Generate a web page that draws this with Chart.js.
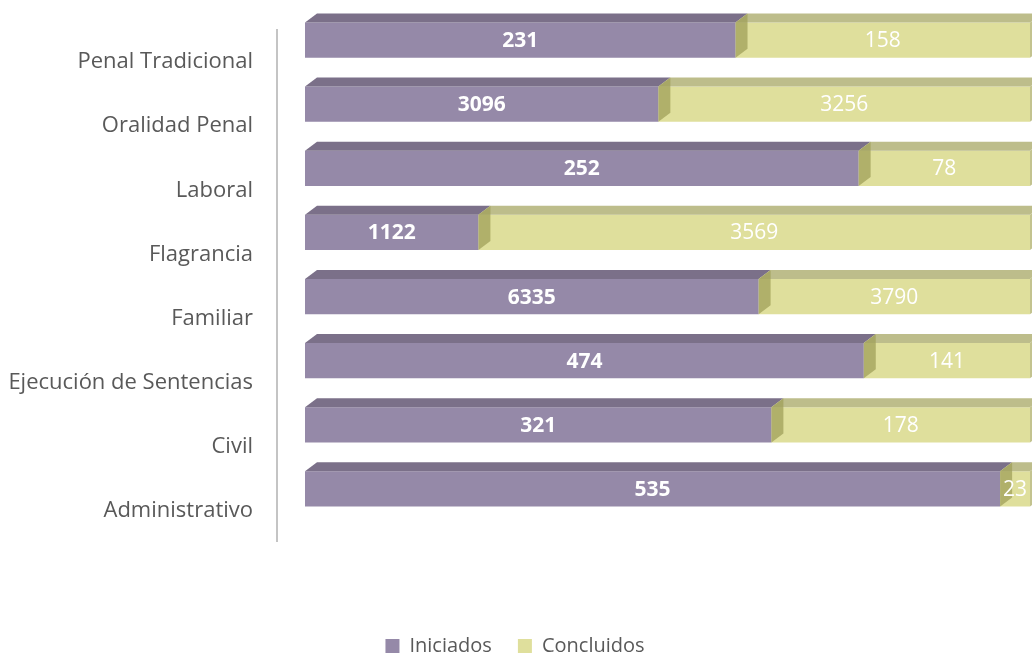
<!DOCTYPE html>
<html>
<head>
<meta charset="utf-8">
<script src="https://cdn.jsdelivr.net/npm/chart.js@4"></script>
<style>
html,body{margin:0;padding:0;background:#fff;}
#wrap{width:1032px;height:653px;position:relative;}
</style>
</head>
<body>
<div id="wrap"><canvas id="c" width="1032" height="653"></canvas></div>
<script>
const categories = ["Penal Tradicional","Oralidad Penal","Laboral","Flagrancia","Familiar","Ejecución de Sentencias","Civil","Administrativo"];
const iniciados = [231, 3096, 252, 1122, 6335, 474, 321, 535];
const concluidos = [158, 3256, 78, 3569, 3790, 141, 178, 23];
const seriesNames = ["Iniciados", "Concluidos"];

const totals = iniciados.map((v, i) => v + concluidos[i]);
const pctIni = iniciados.map((v, i) => v / totals[i] * 100);
const pctCon = concluidos.map((v, i) => v / totals[i] * 100);
const rawValues = [iniciados, concluidos];

const FRONT = ["#9589a8", "#dfdf9c"];
const TOP = ["#7b7089", "#bdbd8b"];
const SIDE_MID = "rgba(160,160,90,0.75)";
const SIDE_END = "#c3c38f";
const DX = 12, DY = 9;

const threeD = {
  id: 'threeD',
  beforeLayout(chart) {
    const lg = chart.legend;
    if (lg && !lg._patched) {
      const orig = lg.fit;
      lg.fit = function () { orig.apply(this, arguments); this.height -= 13; };
      lg._patched = true;
    }
  },
  afterDatasetsDraw(chart) {
    const ctx = chart.ctx;
    ctx.save();
    const metas = [chart.getDatasetMeta(0), chart.getDatasetMeta(1)];
    metas.forEach((meta, d) => {
      meta.data.forEach(el => {
        const top = el.y - el.height / 2;
        const l = Math.min(el.x, el.base), r = Math.max(el.x, el.base);
        ctx.fillStyle = TOP[d];
        ctx.beginPath();
        ctx.moveTo(l, top);
        ctx.lineTo(r, top);
        ctx.lineTo(r + DX, top - DY);
        ctx.lineTo(l + DX, top - DY);
        ctx.closePath();
        ctx.fill();
      });
    });
    metas.forEach((meta, d) => {
      meta.data.forEach(el => {
        const top = el.y - el.height / 2, bot = el.y + el.height / 2;
        const r = Math.max(el.x, el.base);
        ctx.fillStyle = d === 0 ? SIDE_MID : SIDE_END;
        ctx.beginPath();
        ctx.moveTo(r, top);
        ctx.lineTo(r + DX, top - DY);
        ctx.lineTo(r + DX, bot - DY);
        ctx.lineTo(r, bot);
        ctx.closePath();
        ctx.fill();
      });
    });
    metas.forEach((meta, d) => {
      meta.data.forEach((el, i) => {
        ctx.fillStyle = "#ffffff";
        ctx.font = (d === 0 ? "bold " : "") + "21px 'Open Sans'";
        ctx.textAlign = "center";
        ctx.textBaseline = "middle";
        ctx.fillText(String(rawValues[d][i]), (el.x + el.base) / 2, el.y + 1);
      });
    });
    const ca = chart.chartArea;
    ctx.strokeStyle = "#c4c4c4";
    ctx.lineWidth = 2;
    ctx.beginPath();
    ctx.moveTo(ca.left - 28, ca.top + 21);
    ctx.lineTo(ca.left - 28, ca.bottom + 21);
    ctx.stroke();
    ctx.restore();
  }
};

new Chart(document.getElementById('c'), {
  type: 'bar',
  data: {
    labels: categories,
    datasets: [
      { label: seriesNames[0], data: pctIni, backgroundColor: FRONT[0], barPercentage: 0.55, categoryPercentage: 1 },
      { label: seriesNames[1], data: pctCon, backgroundColor: FRONT[1], barPercentage: 0.55, categoryPercentage: 1 }
    ]
  },
  options: {
    indexAxis: 'y',
    responsive: false,
    animation: false,
    devicePixelRatio: 1,
    layout: { padding: { top: 8, right: 2, left: 0, bottom: 0 } },
    scales: {
      x: {
        stacked: true, min: 0, max: 100,
        grid: { display: false, drawTicks: false }, border: { display: false },
        ticks: { display: false },
        afterFit(s) { s.height = 89; s.paddingLeft = 0; s.paddingRight = 0; }
      },
      y: {
        stacked: true,
        grid: { display: false, drawTicks: false }, border: { display: false },
        ticks: { color: '#595959', font: { family: 'Open Sans', size: 22 }, padding: 52, labelOffset: 22 },
        afterFit(s) { s.width = 305; s.paddingTop = 0; s.paddingBottom = 0; }
      }
    },
    plugins: {
      legend: {
        position: 'bottom',
        labels: { color: '#595959', font: { family: 'Open Sans', size: 20 }, boxWidth: 14, boxHeight: 14, padding: 26 }
      },
      tooltip: { enabled: false }
    }
  },
  plugins: [threeD]
});
</script>
</body>
</html>
